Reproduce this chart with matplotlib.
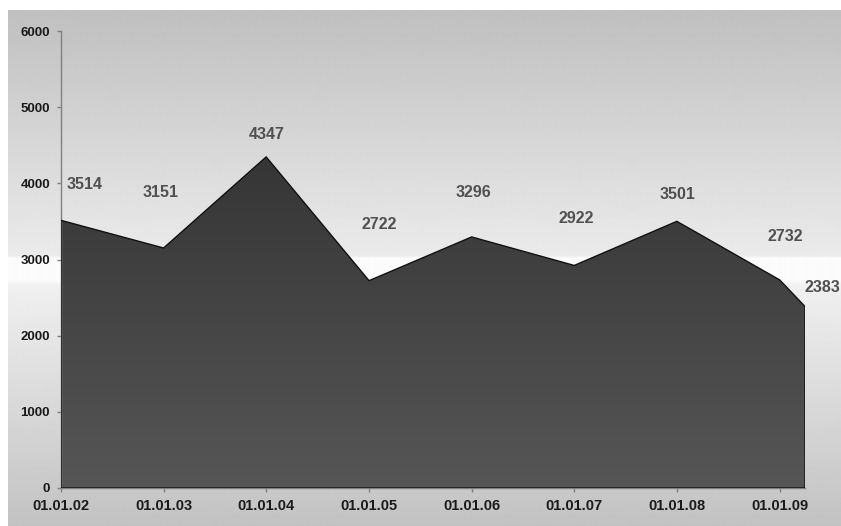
import numpy as np
import pandas as pd
import matplotlib
matplotlib.use("Agg")
import matplotlib.pyplot as plt
import matplotlib.dates as mdates
from matplotlib.colors import LinearSegmentedColormap

# data
dates = ["2002-01-01", "2003-01-01", "2004-01-01", "2005-01-01", "2006-01-01",
         "2007-01-01", "2008-01-01", "2009-01-01", "2009-04-01"]
values = [3514, 3151, 4347, 2722, 3296, 2922, 3501, 2732, 2383]
tick_dates = ["2002-01-01", "2003-01-01", "2004-01-01", "2005-01-01",
              "2006-01-01", "2007-01-01", "2008-01-01", "2009-01-01"]
tick_labels = ["01.01.02", "01.01.03", "01.01.04", "01.01.05",
               "01.01.06", "01.01.07", "01.01.08", "01.01.09"]
y_ticks = [0, 1000, 2000, 3000, 4000, 5000, 6000]

# label placement (pixels above point, pixels right)
label_dy = [36, 55, 22, 56, 44, 47, 27, 43, 19]
label_dx = [24, -3, 1, 10, 2, 2, 1, 6, 17]

x = mdates.date2num(pd.to_datetime(dates))
xt = mdates.date2num(pd.to_datetime(tick_dates))

plt.rcParams["font.family"] = ["Liberation Sans", "DejaVu Sans"]

W, H = 841, 526
fig = plt.figure(figsize=(W / 100, H / 100), dpi=100)
fig.patch.set_facecolor("white")

# background panel with grey-white-grey vertical gradient
bg = fig.add_axes([8 / W, 0, (W - 8) / W, (H - 10) / H])
bg.set_axis_off()
rows = np.arange(10, H)
shade = np.interp(rows, [10, 255, 258, 280, 286, 526],
                  [0.75, 0.92, 0.985, 0.985, 0.94, 0.76])
bg.imshow(np.tile(shade[:, None], (1, 2)), cmap="gray", vmin=0, vmax=1,
          aspect="auto", extent=[0, 1, 0, 1], interpolation="bilinear")
bg.set_xlim(0, 1)
bg.set_ylim(0, 1)

ax = fig.add_axes([61 / W, (H - 488) / H, (805 - 61) / W, (488 - 31) / H])
ax.patch.set_alpha(0)

# area with dark vertical gradient
poly = ax.fill_between(x, values, 0, facecolor="none", edgecolor="#111111",
                       linewidth=1.0, zorder=3)
cmap = LinearSegmentedColormap.from_list("area", ["#353535", "#565656"])
grad = np.linspace(0, 1, 256)[:, None]
im = ax.imshow(grad, cmap=cmap, aspect="auto",
               extent=[x[0], x[-1], 0, 4400], origin="upper", zorder=2)
im.set_clip_path(poly.get_paths()[0], transform=ax.transData)
ax.set_xlim(x[0], x[-1])
ax.set_ylim(0, 6000)

for xi, v, dy, dx in zip(x, values, label_dy, label_dx):
    ax.annotate(str(v), (xi, v), xytext=(dx * 0.72, dy * 0.72),
                textcoords="offset points", ha="center", va="center",
                fontsize=11.5, fontweight="bold", color="#505050",
                annotation_clip=False, zorder=5)

for side in ["top", "right"]:
    ax.spines[side].set_visible(False)
for side in ["left", "bottom"]:
    ax.spines[side].set_color("#808080")
    ax.spines[side].set_linewidth(1.0)

ax.set_xticks(xt)
ax.set_xticklabels(tick_labels)
ax.set_yticks(y_ticks)
ax.tick_params(axis="both", length=3, width=1, color="#808080",
               labelcolor="#1a1a1a")
for lab in ax.get_xticklabels() + ax.get_yticklabels():
    lab.set_fontweight("bold")
ax.tick_params(axis="x", pad=5, labelsize=10.5)
ax.tick_params(axis="y", pad=5, labelsize=9.5)

fig.savefig("out.png", dpi=100, facecolor="white")
